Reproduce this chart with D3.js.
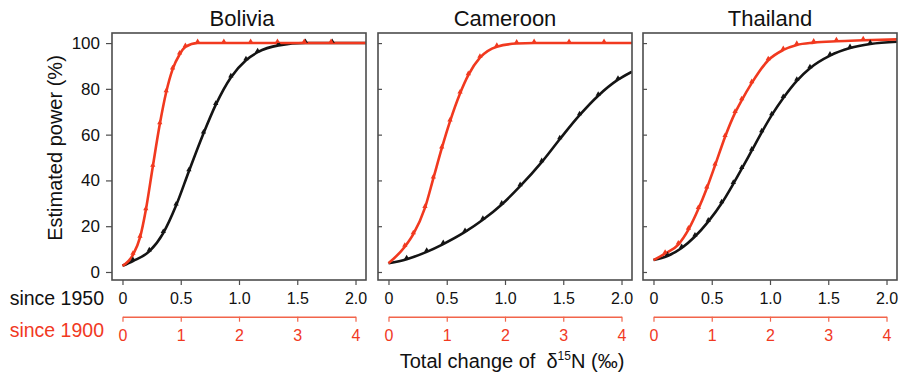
<!DOCTYPE html>
<html>
<head>
<meta charset="utf-8">
<script src="https://cdn.jsdelivr.net/npm/d3@7"></script>
<style>
  html, body { margin: 0; padding: 0; background: #fff; }
  svg { display: block; font-family: "Liberation Sans", Arial, Helvetica, sans-serif; }
</style>
</head>
<body>
<svg id="chart" width="904" height="376"></svg>
<script>
// Estimated power (%) against total change of δ15N (‰).
// "since 1950" series use the black axis (0–2 ‰), "since 1900" series the red axis (0–4 ‰).
const countries = ["Bolivia", "Cameroon", "Thailand"];

const boliviaSince1950 = [
  [0, 2.7], [0.09, 4.8], [0.23, 9], [0.35, 17], [0.46, 29], [0.57, 44],
  [0.695, 60.5], [0.8, 73], [0.93, 85], [1.06, 92.5], [1.16, 96], [1.34, 99],
  [1.57, 100], [1.8, 100], [2.09, 100]
];
const boliviaSince1900 = [
  [0, 2.7], [0.18, 7.5], [0.3, 15], [0.4, 27], [0.52, 46], [0.64, 64.5],
  [0.75, 78.5], [0.86, 88.5], [0.98, 95], [1.08, 98.3], [1.29, 100], [1.74, 100],
  [2.2, 100], [2.66, 100], [3.12, 100], [3.58, 100], [4.18, 100]
];
const cameroonSince1950 = [
  [0, 3.8], [0.156, 5.6], [0.328, 8.8], [0.47, 12.2], [0.657, 17.5], [0.81, 22.8],
  [0.972, 29.5], [1.13, 37.5], [1.315, 48], [1.47, 58], [1.64, 68.5], [1.8, 77],
  [1.97, 84], [2.09, 87.5]
];
const cameroonSince1900 = [
  [0, 3.8], [0.28, 11], [0.426, 16.5], [0.626, 28], [0.77, 40.9], [0.914, 54],
  [1.056, 65.8], [1.228, 78], [1.37, 86], [1.57, 93.6], [1.86, 98.4], [2.2, 99.8],
  [2.5, 100], [3.1, 100], [3.7, 100], [4.18, 100]
];
const thailandSince1950 = [
  [0, 5.2], [0.12, 7], [0.242, 10.5], [0.356, 15.5], [0.47, 22], [0.585, 30],
  [0.685, 38.5], [0.757, 45], [0.843, 53], [0.929, 61], [1.015, 68.5], [1.114, 76],
  [1.23, 83.5], [1.343, 89], [1.515, 94.5], [1.687, 97.8], [1.86, 99.6], [2.09, 100.6]
];
const thailandSince1900 = [
  [0, 5.2], [0.2, 8], [0.426, 12], [0.6, 18.5], [0.77, 27.5], [0.914, 36.5],
  [1.056, 46.5], [1.228, 59], [1.4, 69.5], [1.514, 75], [1.686, 82.5],
  [1.97, 92.5], [2.228, 97], [2.46, 99.2], [2.75, 100.2], [3.14, 100.8],
  [3.6, 101.2], [4.18, 101.6]
];

const since1950 = [boliviaSince1950, cameroonSince1950, thailandSince1950];
const since1900 = [boliviaSince1900, cameroonSince1900, thailandSince1900];

const yTicks = [0, 20, 40, 60, 80, 100];
const xTicks1950 = [0, 0.5, 1, 1.5, 2];
const xTickLabels1950 = ["0", "0.5", "1.0", "1.5", "2.0"];
const xTicks1900 = [0, 1, 2, 3, 4];

const BLACK = "#141414";
const RED = "#f1391f";
const RED_AXIS = "#f2644a";
const FRAME = "#4d4d4d";

const svg = d3.select("#chart");

const panelLefts = [112, 378, 643];
const panelW = 254;
const plotTop = 33, plotBottom = 280;

const y = d3.scaleLinear().domain([-3.5, 104.4]).range([plotBottom, plotTop]);

countries.forEach((name, i) => {
  const left = panelLefts[i];
  const x = d3.scaleLinear().domain([-0.09, 2.09]).range([left, left + panelW]);
  const x1900 = d3.scaleLinear().domain([-0.18, 4.18]).range([left, left + panelW]);

  const g = svg.append("g");

  g.append("clipPath").attr("id", "clip" + i)
    .append("rect").attr("x", left).attr("y", plotTop)
    .attr("width", panelW).attr("height", plotBottom - plotTop);

  // panel title
  g.append("text")
    .attr("x", left + panelW / 2 + (i === 0 ? 3 : 0)).attr("y", 26)
    .attr("text-anchor", "middle")
    .attr("font-size", 22).attr("fill", "#111")
    .text(name);

  // y axis: labelled on the first panel, inner ticks only on the others
  const yAxis = i === 0
    ? d3.axisLeft(y).tickValues(yTicks).tickSize(6).tickPadding(6)
    : d3.axisLeft(y).tickValues(yTicks).tickSize(-4).tickFormat("");
  const ya = g.append("g").attr("transform", `translate(${left},0)`).call(yAxis);
  ya.select(".domain").remove();
  ya.selectAll("line").attr("stroke", FRAME).attr("stroke-width", 1.2);
  ya.selectAll("text").attr("font-size", 17).attr("fill", "#111").attr("font-family", null);

  // black axis (since 1950)
  const xa = g.append("g").attr("transform", `translate(0,${plotBottom})`)
    .call(d3.axisBottom(x).tickValues(xTicks1950)
      .tickFormat((d, k) => xTickLabels1950[k]).tickSize(5).tickPadding(8));
  xa.select(".domain").remove();
  xa.selectAll("line").attr("stroke", FRAME).attr("stroke-width", 1.2);
  xa.selectAll("text").attr("font-size", 16).attr("fill", "#111").attr("font-family", null);

  // red axis (since 1900)
  const redScale = d3.scaleLinear().domain([0, 4]).range([x1900(0), x1900(4)]);
  const ra = g.append("g").attr("transform", `translate(0,316.7)`)
    .call(d3.axisBottom(redScale).tickValues(xTicks1900)
      .tickFormat(d3.format("d")).tickSize(5).tickSizeOuter(0).tickPadding(8));
  ra.select(".domain").attr("stroke", RED_AXIS).attr("stroke-width", 1.4);
  ra.selectAll("line").attr("stroke", RED_AXIS).attr("stroke-width", 1.2);
  ra.selectAll("text").attr("font-size", 16).attr("fill", RED).attr("font-family", null);

  // curves
  const plot = g.append("g").attr("clip-path", `url(#clip${i})`);
  const line1950 = d3.line().x(d => x(d[0])).y(d => y(d[1])).curve(d3.curveMonotoneX);
  const line1900 = d3.line().x(d => x1900(d[0])).y(d => y(d[1])).curve(d3.curveMonotoneX);

  plot.append("path").datum(since1950[i])
    .attr("d", line1950).attr("fill", "none")
    .attr("stroke", BLACK).attr("stroke-width", 2.6).attr("stroke-linejoin", "round");
  plot.append("path").datum(since1900[i])
    .attr("d", line1900).attr("fill", "none")
    .attr("stroke", RED).attr("stroke-width", 2.6).attr("stroke-linejoin", "round");

  const tri = d3.symbol().type(d3.symbolTriangle).size(12);
  plot.selectAll(".m1950").data(since1950[i].slice(1, -1)).join("path")
    .attr("transform", d => `translate(${x(d[0])},${y(d[1]) - 1.5})`)
    .attr("d", tri).attr("fill", BLACK);
  plot.selectAll(".m1900").data(since1900[i].slice(1, -1)).join("path")
    .attr("transform", d => `translate(${x1900(d[0])},${y(d[1]) - 1.5})`)
    .attr("d", tri).attr("fill", RED);

  // frame
  g.append("rect").attr("x", left).attr("y", plotTop)
    .attr("width", panelW).attr("height", plotBottom - plotTop)
    .attr("fill", "none").attr("stroke", FRAME).attr("stroke-width", 1.6);
});

// axis titles
svg.append("text")
  .attr("transform", "translate(62,148) rotate(-90)")
  .attr("text-anchor", "middle").attr("font-size", 20).attr("fill", "#111")
  .text("Estimated power (%)");

svg.append("text").attr("x", 104).attr("y", 305)
  .attr("text-anchor", "end").attr("font-size", 19.5).attr("fill", "#111")
  .text("since 1950");
svg.append("text").attr("x", 104).attr("y", 337)
  .attr("text-anchor", "end").attr("font-size", 19.5).attr("fill", RED)
  .text("since 1900");

const xt = svg.append("text").attr("x", 512).attr("y", 368)
  .attr("text-anchor", "middle").attr("font-size", 20).attr("fill", "#111")
  .attr("xml:space", "preserve");
xt.append("tspan").text("Total change of  δ");
xt.append("tspan").attr("font-size", 12).attr("dy", -8).text("15");
xt.append("tspan").attr("dy", 8).text("N (‰)");
</script>
</body>
</html>
